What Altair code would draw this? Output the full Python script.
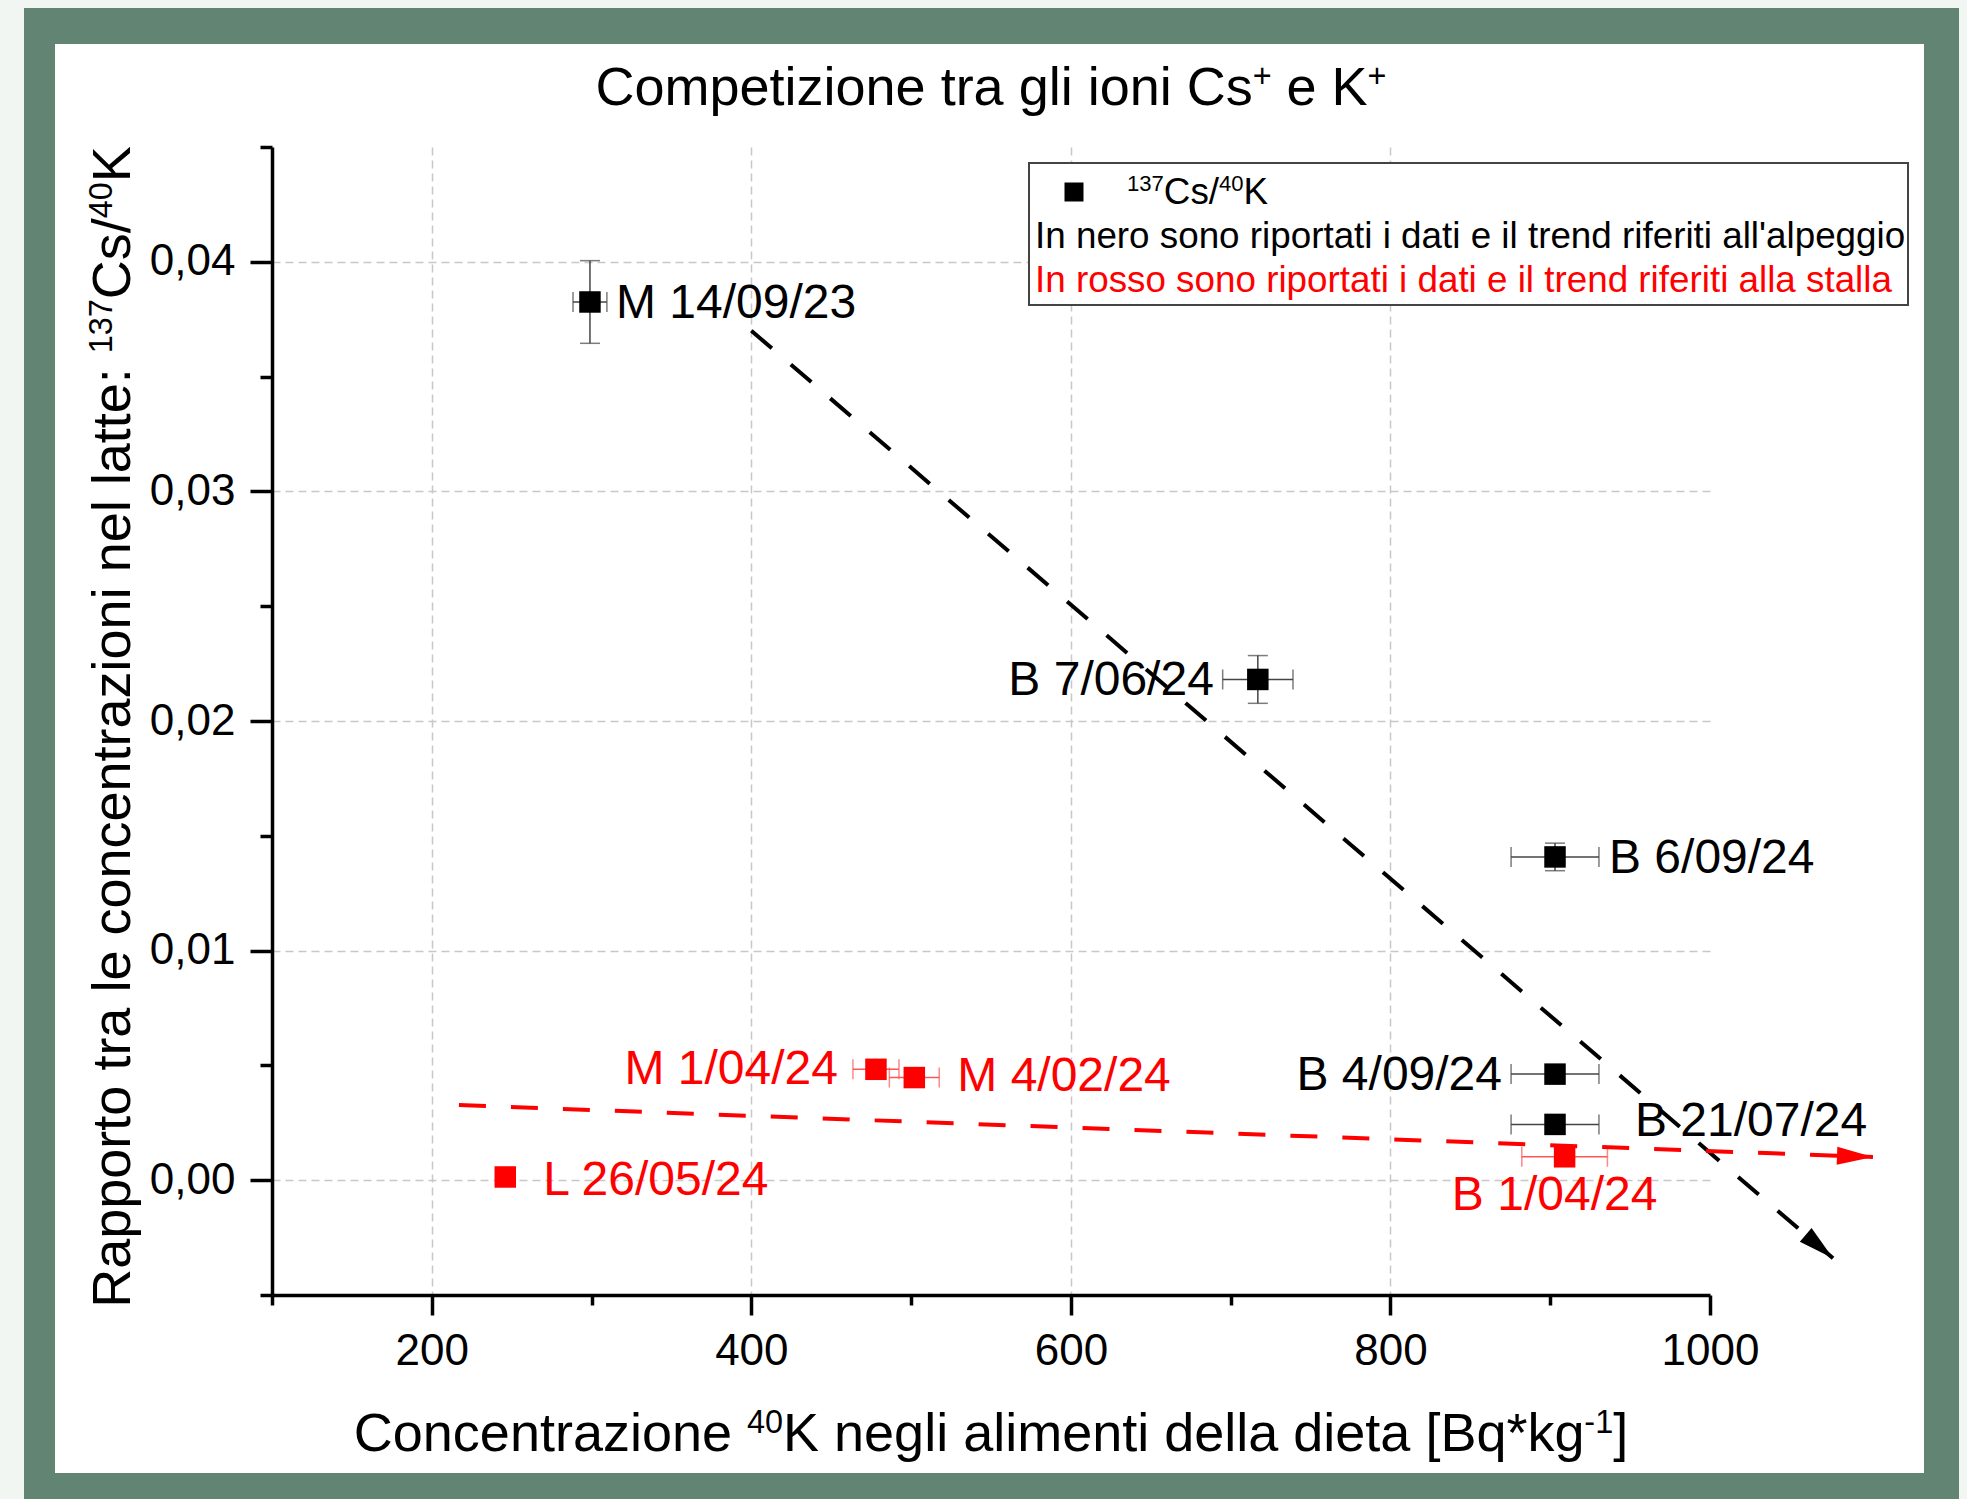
import math
import altair as alt
import pandas as pd

# ---------------- data ----------------
alp_labels = ["M 14/09/23", "B 7/06/24", "B 6/09/24", "B 4/09/24", "B 21/07/24"]
alp_k40 = [299, 717, 903, 903, 903]
alp_ratio = [0.03825, 0.02181, 0.01408, 0.00462, 0.00243]
alp_k40_err = [10.6, 22.0, 27.5, 27.5, 27.5]
alp_ratio_err = [0.0018, 0.00104, 0.0006, 0.0, 0.0]

st_labels = ["M 1/04/24", "M 4/02/24", "L 26/05/24", "B 1/04/24"]
st_k40 = [478, 502, 246, 909]
st_ratio = [0.00483, 0.00447, 0.00014, 0.00102]
st_k40_err = [14.4, 15.6, 0.0, 26.8]

trend_alp_x = [400, 1077]
trend_alp_y = [0.0370, -0.0034]
trend_st_x = [217, 1102]
trend_st_y = [0.00327, 0.00101]

x_ticks = [100, 200, 300, 400, 500, 600, 700, 800, 900, 1000]
y_ticks = [-0.005, 0.0, 0.005, 0.01, 0.015, 0.02, 0.025, 0.03, 0.035, 0.04, 0.045]

# rich texts: (text, superscript?)
title_parts = [("Competizione tra gli ioni Cs", False), ("+", True), (" e K", False), ("+", True)]
x_title_parts = [("Concentrazione ", False), ("40", True), ("K negli alimenti della dieta [Bq*kg", False),
                 ("-1", True), ("]", False)]
y_title_parts = [("Rapporto tra le concentrazioni nel latte: ", False), ("137", True), ("Cs/", False),
                 ("40", True), ("K", False)]
legend_series_parts = [("137", True), ("Cs/", False), ("40", True), ("K", False)]
legend_black = "In nero sono riportati i dati e il trend riferiti all'alpeggio"
legend_red = "In rosso sono riportati i dati e il trend riferiti alla stalla"

# ---------------- layout / style ----------------
FONT = "Liberation Sans"
W, H = 1438, 1148
PAD = {"left": 272, "top": 147, "right": 257, "bottom": 204}
XD = [100, 1000]
YD = [-0.005, 0.045]
GREEN = "#628573"
LIGHT = "#f2f6f2"
RED = "#ff0000"
SUP_SCALE, SUP_RAISE = 0.6, 0.34

# label offsets (pixels) relative to their point: align, dx, dy
LABEL_POS = {
    "M 14/09/23": ("left", 26, 16),
    "B 7/06/24": ("right", -44, 16),
    "B 6/09/24": ("left", 54, 16),
    "B 4/09/24": ("right", -53, 16),
    "B 21/07/24": ("left", 80, 12),
    "M 1/04/24": ("right", -38, 15),
    "M 4/02/24": ("left", 43, 13),
    "L 26/05/24": ("left", 38, 18),
    "B 1/04/24": ("center", -10, 53),
}

# Arial / Liberation Sans advance widths (1/1000 em)
AW = {" ": 278, "'": 191, "*": 389, "+": 584, ",": 278, "-": 333, ".": 278, "/": 278, ":": 278,
      "[": 278, "]": 278}
AW.update({d: 556 for d in "0123456789"})
AW.update(dict(zip("ABCDEFGHIJKLMNOPQRSTUVWXYZ",
                   [667, 667, 722, 722, 667, 611, 778, 722, 278, 500, 667, 556, 833, 722, 778, 667,
                    778, 722, 667, 611, 722, 667, 944, 667, 667, 611])))
AW.update(dict(zip("abcdefghijklmnopqrstuvwxyz",
                   [556, 556, 500, 556, 556, 278, 556, 556, 222, 222, 500, 222, 833, 556, 556, 556,
                    556, 333, 500, 278, 556, 500, 722, 500, 500, 500])))


def text_width(s, fs):
    return sum(AW.get(c, 556) for c in s) / 1000.0 * fs


def rich_width(parts, fs):
    return sum(text_width(t, fs * SUP_SCALE if sup else fs) for t, sup in parts)


one = alt.Data(values=[{"a": 1}])


def rich_text(parts, fs, x0, base, color="black", rotated=False):
    """Lay out text with superscripts as consecutive text marks."""
    out = []
    pos = 0.0
    for t, sup in parts:
        f = fs * SUP_SCALE if sup else fs
        shift = SUP_RAISE * fs if sup else 0.0
        lead = t[:len(t) - len(t.lstrip(" "))]
        p = pos + text_width(lead, f)
        if rotated:
            xx, yy = base - shift, x0 - p
        else:
            xx, yy = x0 + p, base - shift
        out.append(alt.Chart(one).mark_text(
            text=t.strip(" "), align="left", baseline="alphabetic", fontSize=f, font=FONT, color=color,
            angle=270 if rotated else 0).encode(x=alt.value(xx), y=alt.value(yy)))
        pos += text_width(t, f)
    return out


alp = pd.DataFrame({"label": alp_labels, "x": alp_k40, "y": alp_ratio,
                    "xe": alp_k40_err, "ye": alp_ratio_err})
alp["xlo"] = alp.x - alp.xe
alp["xhi"] = alp.x + alp.xe
alp["ylo"] = alp.y - alp.ye
alp["yhi"] = alp.y + alp.ye
alp["color"] = "black"

st = pd.DataFrame({"label": st_labels, "x": st_k40, "y": st_ratio, "xe": st_k40_err})
st["xlo"] = st.x - st.xe
st["xhi"] = st.x + st.xe
st["color"] = RED

xs = alt.Scale(domain=XD, nice=False, zero=False)
ys = alt.Scale(domain=YD, nice=False, zero=False)

x_major = "datum.value % 200 == 0"
y_major = "abs(round(datum.value * 1000)) % 10 == 0"

common_axis = dict(
    gridDash=[8, 5], gridColor="#c8c8c8", gridWidth=1.5,
    domainColor="black", domainWidth=3.5, tickColor="black", tickWidth=3.5,
    labelFont=FONT, labelFontSize=44, labelColor="black",
    labelOverlap=False, labelFlush=False, labelBound=False, title=None,
)

xaxis = alt.Axis(
    values=x_ticks, grid=True,
    tickSize={"condition": {"test": x_major, "value": 20}, "value": 10},
    gridOpacity={"condition": {"test": x_major + " && datum.value < 1000", "value": 1}, "value": 0},
    labelExpr=f"{x_major} ? ('' + datum.value) : ''",
    labelPadding=14,
    **common_axis,
)
yaxis = alt.Axis(
    values=y_ticks, grid=True,
    tickSize={"condition": {"test": y_major, "value": 22}, "value": 12},
    gridOpacity={"condition": {"test": y_major, "value": 1}, "value": 0},
    labelExpr=f"{y_major} ? replace(format(datum.value, '.2f'), '.', ',') : ''",
    labelPadding=15,
    **common_axis,
)


def X(field):
    return alt.X(field, type="quantitative", scale=xs, axis=xaxis)


def Y(field):
    return alt.Y(field, type="quantitative", scale=ys, axis=yaxis)


layers = []

# frame outside the white panel (plot coordinates relative to plot origin)
for (x0, x1, y0, y1, c) in [
    (-272, 1695, -147, -139, LIGHT), (-272, -248, -147, 1352, LIGHT), (1687, 1695, -147, 1352, LIGHT),
    (-248, 1687, -139, -103, GREEN), (-248, 1687, 1326, 1352, GREEN),
    (-248, -217, -103, 1326, GREEN), (1652, 1687, -103, 1326, GREEN),
]:
    layers.append(alt.Chart(one).mark_rect(color=c, opacity=1).encode(
        x=alt.value(x0), x2=alt.value(x1), y=alt.value(y0), y2=alt.value(y1)))

# error bars
layers.append(alt.Chart(alp).mark_errorbar(ticks=True, size=20, thickness=1.5, color="#444444").encode(
    x=X("xlo"), x2="xhi", y=Y("y")))
layers.append(alt.Chart(alp[alp.ye > 0]).mark_errorbar(ticks=True, size=20, thickness=1.5, color="#444444").encode(
    y=Y("ylo"), y2="yhi", x=X("x")))
layers.append(alt.Chart(st[st.xe > 0]).mark_errorbar(ticks=True, size=20, thickness=1.5, color="#ff5555").encode(
    x=X("xlo"), x2="xhi", y=Y("y")))

# trend lines with arrow heads
px_x = W / (XD[1] - XD[0])
px_y = H / (YD[1] - YD[0])
ARROW = "M0,0L-2,-0.5L-2,0.5Z"
for tx, ty, col in [(trend_alp_x, trend_alp_y, "black"), (trend_st_x, trend_st_y, RED)]:
    df = pd.DataFrame({"x": tx, "y": ty})
    layers.append(alt.Chart(df).mark_line(color=col, strokeWidth=4, strokeDash=[27, 25], strokeCap="butt").encode(
        x=X("x"), y=Y("y")))
    ang = math.degrees(math.atan2((ty[0] - ty[1]) * px_y, (tx[1] - tx[0]) * px_x)) % 360
    layers.append(alt.Chart(df.iloc[[1]]).mark_point(
        shape=ARROW, size=1296, angle=ang, filled=True, opacity=1, color=col, strokeWidth=0).encode(
        x=X("x"), y=Y("y")))

# points
layers.append(alt.Chart(alp).mark_square(size=462, opacity=1, color="black").encode(x=X("x"), y=Y("y")))
layers.append(alt.Chart(st).mark_square(size=462, opacity=1, color=RED).encode(x=X("x"), y=Y("y")))

# point labels
for df in (alp, st):
    for _, row in df.iterrows():
        al, dx, dy = LABEL_POS[row.label]
        layers.append(alt.Chart(df).transform_filter(alt.datum.label == row.label).mark_text(
            align=al, baseline="alphabetic", dx=dx, dy=dy, fontSize=48, font=FONT, color=row.color
        ).encode(x=X("x"), y=Y("y"), text="label:N"))

# legend box
LFS = 36.8
layers.append(alt.Chart(one).mark_rect(fill="white", stroke="#444444", strokeWidth=2).encode(
    x=alt.value(757), x2=alt.value(1636), y=alt.value(16), y2=alt.value(158)))
layers.append(alt.Chart(one).mark_square(size=361, opacity=1, color="black").encode(
    x=alt.value(802), y=alt.value(45)))
layers += rich_text(legend_series_parts, LFS, 855, 57)
for txt, yy, col in [(legend_black, 101, "black"), (legend_red, 145, RED)]:
    layers.append(alt.Chart(one).mark_text(
        text=txt, align="left", baseline="alphabetic", fontSize=LFS, font=FONT, color=col).encode(
        x=alt.value(763), y=alt.value(yy)))

# title and axis titles (with superscripts)
TFS = 54
layers += rich_text(title_parts, TFS, W / 2 - rich_width(title_parts, TFS) / 2, -42)
AFS = 54
layers += rich_text(x_title_parts, AFS, W / 2 - rich_width(x_title_parts, AFS) / 2, H + 156)
layers += rich_text(y_title_parts, AFS, 580 + rich_width(y_title_parts, AFS) / 2, -142, rotated=True)

chart = alt.layer(*layers).properties(
    width=W, height=H, padding=PAD, autosize=alt.AutoSizeParams(type="none"),
    background="white",
).configure(font=FONT).configure_view(stroke=None)

chart.save("out.html", embed_options={"renderer": "svg", "actions": False})
